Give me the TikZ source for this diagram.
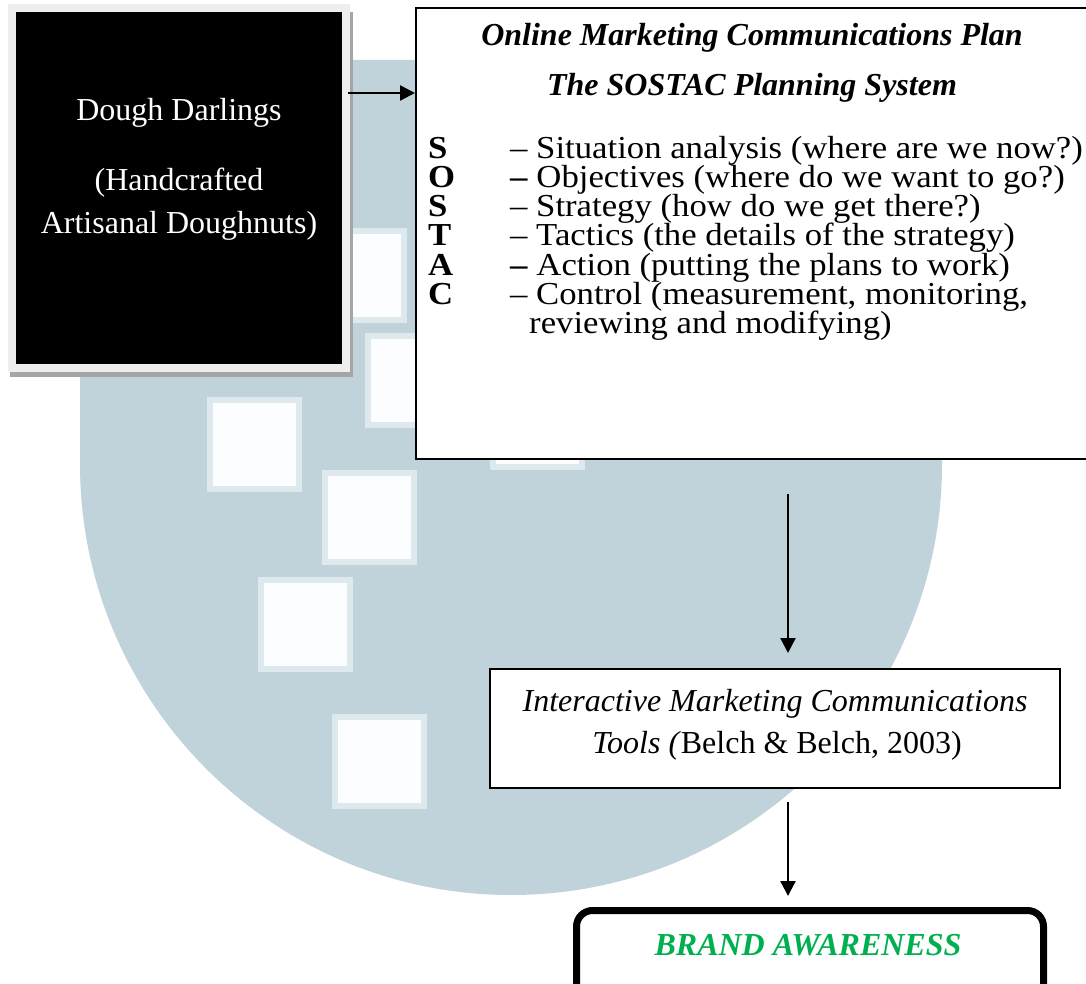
\documentclass[tikz,border=0pt]{standalone}
\usepackage{fontspec}
\setmainfont{Liberation Serif}
\newfontfamily\listfont[FakeStretch=1.085]{Liberation Serif}
\usetikzlibrary{arrows.meta}

\definecolor{wmblue}{RGB}{193,211,218}
\definecolor{wmedge}{RGB}{222,233,237}
\definecolor{holefill}{RGB}{251,253,254}
\definecolor{framegray}{RGB}{238,238,238}
\definecolor{shadowgray}{RGB}{165,165,165}
\definecolor{brandgreen}{RGB}{0,176,80}

\tikzset{
  txt/.style={inner sep=0pt, font=\fontsize{32}{36}\selectfont},
  listtxt/.style={inner sep=0pt, font=\listfont\fontsize{32}{36}\selectfont},
  hole/.style={fill=holefill, draw=wmedge, line width=6pt},
  plainbox/.style={draw=black, line width=2pt, fill=white, inner sep=0pt},
  arr/.style={draw=black, line width=2.4pt, -{Triangle[length=15pt,width=15pt]}},
}

\begin{document}
\begin{tikzpicture}[x=1pt,y=-1pt]
\useasboundingbox (0,0) rectangle (1086,984);
\fill[white] (0,0) rectangle (1086,984);

% background emblem: shield with a round base and square cut-outs
\fill[wmblue] (80,60) -- (942,60) -- (942,464)
  arc[start angle=0, end angle=180, radius=431] -- cycle;
\foreach \x/\y in {312/228, 365/333, 207/397, 322/470, 490/375, 258/577, 332/714}
  \filldraw[hole] (\x+3,\y+3) rectangle (\x+92,\y+92);

% company box with frame and shadow
\fill[shadowgray] (10,12) rectangle (353,377);
\node[fill=black, draw=framegray, line width=8pt, minimum width=334pt, minimum height=360pt, inner sep=0pt] (dd) at (179,188) {};
\node[txt, text=white, anchor=base] (dd1) at (179,121) {Dough Darlings};
\node[txt, text=white, anchor=base] (dd2) at (179,191) {(Handcrafted};
\node[txt, text=white, anchor=base] (dd3) at (179,234) {Artisanal Doughnuts)};

% SOSTAC plan box
\node[plainbox, minimum width=676pt, minimum height=451pt] (plan) at (754,233.5) {};
\node[txt, anchor=base] (t1) at (752,46) {\textbf{\textit{Online Marketing Communications Plan}}};
\node[txt, anchor=base] (t2) at (752,96) {\textbf{\textit{The SOSTAC Planning System}}};

\foreach \n/\l/\d/\yy in {
  l1/S/{– Situation analysis (where are we now?)}/159,
  l2/O/{\textbf{–} Objectives (where do we want to go?)}/188,
  l3/S/{– Strategy (how do we get there?)}/217,
  l4/T/{– Tactics (the details of the strategy)}/246,
  l5/A/{\textbf{–} Action (putting the plans to work)}/275,
  l6/C/{– Control (measurement, monitoring,}/304}
{
  \node[listtxt, anchor=base west] (\n k) at (428,\yy) {\textbf{\l}};
  \node[listtxt, anchor=base west] (\n d) at (510,\yy) {\d};
}
\node[listtxt, anchor=base west] (l7d) at (529,333) {reviewing and modifying)};

% tools box
\node[plainbox, minimum width=570pt, minimum height=119pt] (tools) at (775,728.5) {};
\node[txt, anchor=base] (tl1) at (775,711) {\textit{Interactive Marketing Communications}};
\node[txt, anchor=base] (tl2) at (777,753) {\textit{Tools (}Belch \& Belch, 2003)};

% outcome box
\node[draw=black, line width=7pt, rounded corners=16pt, fill=white, minimum width=467pt, minimum height=110pt] (brand) at (810,965.5) {};
\node[txt, anchor=base, text=brandgreen] (bt) at (808,955) {\textbf{\textit{BRAND AWARENESS}}};

% connectors
\coordinate (a1s) at (348,93);
\draw[arr] (a1s) -- (plan.west |- a1s);
\coordinate (a2s) at (788,494);
\coordinate (a2e) at (788,653);
\draw[arr] (a2s) -- (a2e);
\coordinate (a3s) at (788,802);
\coordinate (a3e) at (788,896);
\draw[arr] (a3s) -- (a3e);
\end{tikzpicture}
\end{document}
